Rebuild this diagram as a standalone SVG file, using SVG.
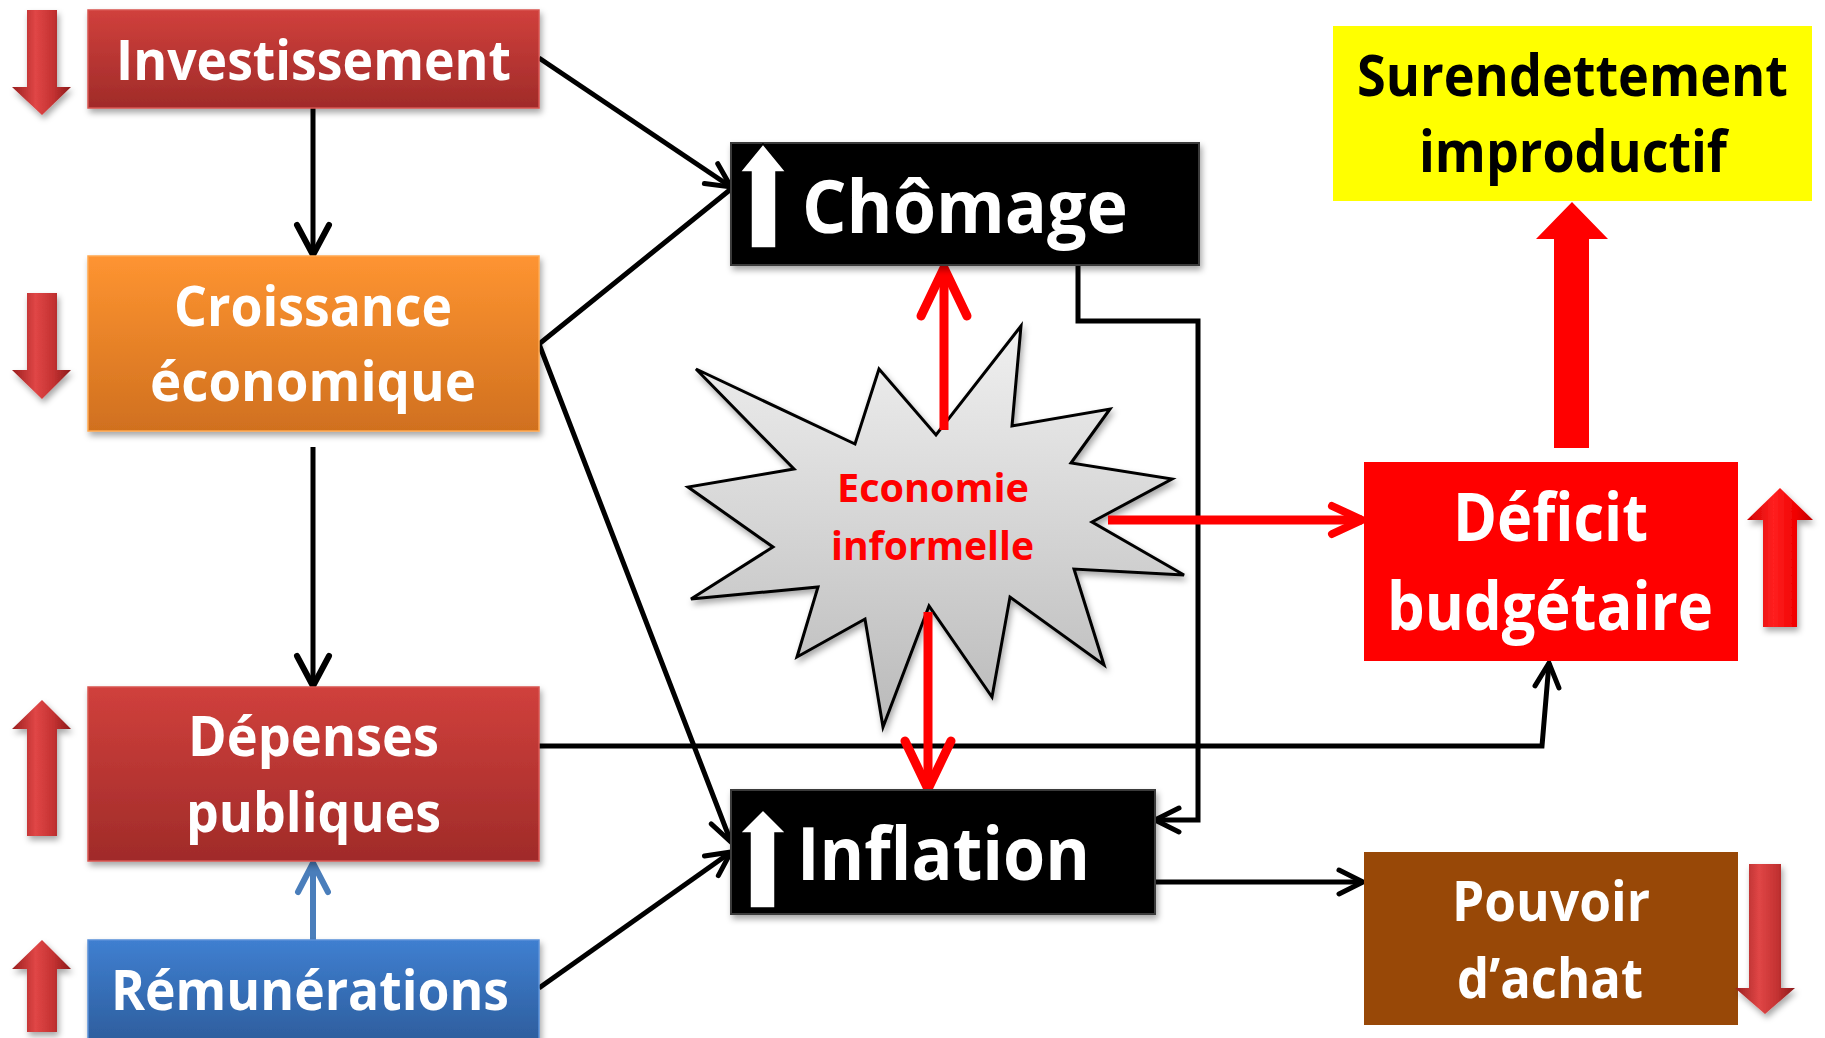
<svg xmlns="http://www.w3.org/2000/svg" width="1825" height="1038" viewBox="0 0 1825 1038">
<defs>
  <linearGradient id="gRed" x1="0" y1="0" x2="0" y2="1"><stop offset="0" stop-color="#d0403c"/><stop offset="1" stop-color="#a02b29"/></linearGradient>
  <linearGradient id="gOrange" x1="0" y1="0" x2="0" y2="1"><stop offset="0" stop-color="#fe9431"/><stop offset="1" stop-color="#d0701f"/></linearGradient>
  <linearGradient id="gBlue" x1="0" y1="0" x2="0" y2="1"><stop offset="0" stop-color="#3f7fd0"/><stop offset="1" stop-color="#2c5b99"/></linearGradient>
  <linearGradient id="gStar" x1="0" y1="0" x2="0" y2="1"><stop offset="0" stop-color="#f0f0f0"/><stop offset="1" stop-color="#bababa"/></linearGradient>
  <linearGradient id="gArrow" x1="0" y1="0" x2="1" y2="0"><stop offset="0" stop-color="#9a1f1f"/><stop offset="0.4" stop-color="#e04646"/><stop offset="0.7" stop-color="#c43232"/><stop offset="1" stop-color="#8c1b1b"/></linearGradient>
  <linearGradient id="gArrow2" x1="0" y1="0" x2="1" y2="0"><stop offset="0" stop-color="#d00000"/><stop offset="0.4" stop-color="#ff2020"/><stop offset="0.75" stop-color="#f00000"/><stop offset="1" stop-color="#c00000"/></linearGradient>
  <filter id="sh" x="-10%" y="-10%" width="130%" height="130%"><feDropShadow dx="2" dy="4" stdDeviation="3" flood-color="#000" flood-opacity="0.35"/></filter>
  <marker id="mb" markerUnits="userSpaceOnUse" orient="auto" overflow="visible" viewBox="0 0 1 1" refX="0" refY="0" markerWidth="1" markerHeight="1"><path d="M-24,-12 L0,0 L-24,12" fill="none" stroke="#000" stroke-width="5" stroke-linecap="round"/></marker>
  <marker id="mbl" markerUnits="userSpaceOnUse" orient="auto" overflow="visible" viewBox="0 0 1 1" refX="0" refY="0" markerWidth="1" markerHeight="1"><path d="M-30,-16 L0,0 L-30,16" fill="none" stroke="#000" stroke-width="6" stroke-linecap="round"/></marker>
  <marker id="mu" markerUnits="userSpaceOnUse" orient="auto" overflow="visible" viewBox="0 0 1 1" refX="0" refY="0" markerWidth="1" markerHeight="1"><path d="M-29,-15 L0,0 L-29,15" fill="none" stroke="#4a7ebb" stroke-width="6" stroke-linecap="round"/></marker>
  <marker id="mr" markerUnits="userSpaceOnUse" orient="auto" overflow="visible" viewBox="0 0 1 1" refX="0" refY="0" markerWidth="1" markerHeight="1"><path d="M-48,-23 L0,0 L-48,23" fill="none" stroke="#f00" stroke-width="9" stroke-linecap="round"/></marker>
  <marker id="mrs" markerUnits="userSpaceOnUse" orient="auto" overflow="visible" viewBox="0 0 1 1" refX="0" refY="0" markerWidth="1" markerHeight="1"><path d="M-30,-14 L0,0 L-30,14" fill="none" stroke="#f00" stroke-width="8" stroke-linecap="round"/></marker>
</defs>
<style>
  .t{font-family:"Open Sans","Noto Sans","DejaVu Sans",sans-serif;font-weight:700;fill:#fff}
  .k{fill:#000}
  .rt{fill:#f00}
  .c{fill:none;stroke:#000;stroke-width:5}
  .r{fill:none;stroke:#f00;stroke-width:9}
  .ar{fill:url(#gArrow);filter:url(#sh)}
  .wa{fill:#fff;stroke:#000;stroke-width:1.5}
  .bx{filter:url(#sh)}
</style>
<rect width="1825" height="1038" fill="#fff"/>

<g id="economie-informelle">
  <polygon points="696,369 855,444 879,369 936,435 1021,326 1012,426 1110,409 1071,463 1172,479 1092,522 1184,575 1074,569 1104,665 1010,597 992,697 929,606 883,727 865,619 797,657 818,587 691,599 773,547 688,487 794,469" fill="url(#gStar)" stroke="#000" stroke-width="3" stroke-linejoin="miter" filter="url(#sh)"/>
  <text class="t rt" x="837" y="502" font-size="40" textLength="192" lengthAdjust="spacingAndGlyphs">Economie</text>
  <text class="t rt" x="831" y="560" font-size="40" textLength="203" lengthAdjust="spacingAndGlyphs">informelle</text>
</g>

<g id="connectors">
  <line class="c" x1="313" y1="108" x2="313" y2="255" marker-end="url(#mbl)"/>
  <line class="c" x1="313" y1="447" x2="313" y2="686" marker-end="url(#mbl)"/>
  <line x1="313" y1="940" x2="313" y2="863" stroke="#4a7ebb" stroke-width="6" marker-end="url(#mu)"/>
  <line class="c" x1="539" y1="58" x2="731" y2="187" marker-end="url(#mb)"/>
  <polyline class="c" points="731,189 539,344 731,842" marker-end="url(#mb)"/>
  <line class="c" x1="539" y1="988" x2="731" y2="852" marker-end="url(#mb)"/>
  <polyline class="c" points="539,746 1542,746 1549,663" marker-end="url(#mb)"/>
  <polyline class="c" points="1078,265 1078,321 1198,321 1198,820 1155,820" marker-end="url(#mb)"/>
  <line class="c" x1="1155" y1="882" x2="1363" y2="882" marker-end="url(#mb)"/>
  <line class="r" x1="944" y1="430" x2="944" y2="268" marker-end="url(#mr)"/>
  <line class="r" x1="928" y1="612" x2="928" y2="789" marker-end="url(#mr)"/>
  <line class="r" x1="1108" y1="520" x2="1362" y2="520" stroke-width="8" marker-end="url(#mrs)"/>
</g>

<g id="investissement">
  <rect class="bx" x="88" y="10" width="451" height="98" fill="url(#gRed)" stroke="#d85550" stroke-width="1.5"/>
  <text class="t" x="116" y="80" font-size="56" textLength="395" lengthAdjust="spacingAndGlyphs">Investissement</text>
  <polygon class="ar" points="27,10 57,10 57,87 71,87 42,115 12,87 27,87"/>
</g>

<g id="croissance">
  <rect class="bx" x="88" y="256" width="451" height="175" fill="url(#gOrange)" stroke="#ffa850" stroke-width="1.5"/>
  <text class="t" x="174" y="326" font-size="56" textLength="278" lengthAdjust="spacingAndGlyphs">Croissance</text>
  <text class="t" x="150" y="401" font-size="56" textLength="326" lengthAdjust="spacingAndGlyphs">économique</text>
  <polygon class="ar" points="27,293 57,293 57,370 71,370 42,399 12,370 27,370"/>
</g>

<g id="depenses">
  <rect class="bx" x="88" y="687" width="451" height="174" fill="url(#gRed)" stroke="#d85550" stroke-width="1.5"/>
  <text class="t" x="188" y="756" font-size="56" textLength="251" lengthAdjust="spacingAndGlyphs">Dépenses</text>
  <text class="t" x="186" y="832" font-size="56" textLength="255" lengthAdjust="spacingAndGlyphs">publiques</text>
  <polygon class="ar" points="42,700 71,729 57,729 57,836 27,836 27,729 12,729"/>
</g>

<g id="remunerations">
  <rect class="bx" x="88" y="940" width="451" height="110" fill="url(#gBlue)" stroke="#5a90d8" stroke-width="1.5"/>
  <text class="t" x="111" y="1010" font-size="56" textLength="398" lengthAdjust="spacingAndGlyphs">Rémunérations</text>
  <polygon class="ar" points="42,940 71,969 57,969 57,1032 27,1032 27,969 12,969"/>
</g>

<g id="chomage">
  <rect class="bx" x="731" y="143" width="468" height="122" fill="#000" stroke="#3a3a3a" stroke-width="2"/>
  <polygon class="wa" points="763,144 786,172 776,172 776,248 751,248 751,172 740,172"/>
  <text class="t" x="802" y="233" font-size="74" textLength="326" lengthAdjust="spacingAndGlyphs">Chômage</text>
</g>

<g id="inflation">
  <rect class="bx" x="731" y="790" width="424" height="124" fill="#000" stroke="#3a3a3a" stroke-width="2"/>
  <polygon class="wa" points="763,810 786,833 775,833 775,908 750,908 750,833 740,833"/>
  <text class="t" x="797" y="880" font-size="74" textLength="293" lengthAdjust="spacingAndGlyphs">Inflation</text>
</g>

<g id="surendettement">
  <rect x="1333" y="26" width="479" height="175" fill="#ffff00"/>
  <text class="t k" x="1357" y="96" font-size="57" textLength="431" lengthAdjust="spacingAndGlyphs">Surendettement</text>
  <text class="t k" x="1419" y="172" font-size="57" textLength="308" lengthAdjust="spacingAndGlyphs">improductif</text>
  <polygon points="1572,202 1608,239 1589,239 1589,448 1554,448 1554,239 1536,239" fill="#ff0000"/>
</g>

<g id="deficit">
  <rect x="1364" y="462" width="374" height="199" fill="#ff0000"/>
  <text class="t" x="1453" y="541" font-size="66" textLength="195" lengthAdjust="spacingAndGlyphs">Déficit</text>
  <text class="t" x="1387" y="630" font-size="66" textLength="326" lengthAdjust="spacingAndGlyphs">budgétaire</text>
  <polygon points="1780,488 1813,520 1797,520 1797,627 1763,627 1763,520 1747,520" fill="url(#gArrow2)" filter="url(#sh)"/>
</g>

<g id="pouvoir">
  <rect x="1364" y="852" width="374" height="173" fill="#984807"/>
  <text class="t" x="1452" y="921" font-size="56" textLength="198" lengthAdjust="spacingAndGlyphs">Pouvoir</text>
  <text class="t" x="1457" y="998" font-size="56" textLength="186" lengthAdjust="spacingAndGlyphs">d’achat</text>
  <polygon class="ar" points="1749,864 1781,864 1781,988 1795,988 1765,1014 1735,988 1749,988"/>
</g>
</svg>
